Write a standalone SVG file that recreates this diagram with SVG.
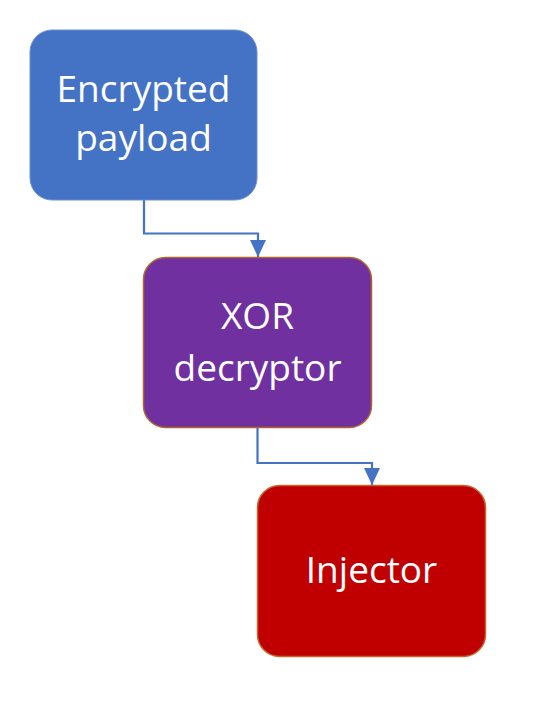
<svg xmlns="http://www.w3.org/2000/svg" width="536" height="706" viewBox="0 0 536 706">
<style>
.lbl{font-family:"Open Sans","Liberation Sans",sans-serif;font-size:37px;fill:#ffffff;text-anchor:middle}
.conn{fill:none;stroke:#4472c4;stroke-width:2.2}
</style>
<defs>
<marker id="ah" markerUnits="userSpaceOnUse" markerWidth="18" markerHeight="18" refX="17" refY="8" orient="auto">
<path d="M0,0 L17,8 L0,16 Z" fill="#4472c4"/>
</marker>
</defs>
<rect width="536" height="706" fill="#ffffff"/>
<g id="connectors">
<path class="conn" d="M144,200 V233.5 H258 V257" marker-end="url(#ah)"/>
<path class="conn" d="M257.5,428 V463 H372 V485" marker-end="url(#ah)"/>
</g>
<g id="encrypted-payload">
<rect x="30" y="30" width="227" height="170" rx="22" fill="#4472c4" stroke="#6f8fd0" stroke-width="1"/>
<text class="lbl" x="143.5" y="102">Encrypted</text>
<text class="lbl" x="143.5" y="151">payload</text>
</g>
<g id="xor-decryptor">
<rect x="143.5" y="257.5" width="228" height="170" rx="22" fill="#7030a0" stroke="#b0652e" stroke-width="1.5"/>
<text class="lbl" x="257.5" y="329">XOR</text>
<text class="lbl" x="257.5" y="380.5">decryptor</text>
</g>
<g id="injector">
<rect x="257.5" y="485.5" width="228" height="171" rx="22" fill="#c00000" stroke="#c5652e" stroke-width="1.5"/>
<text class="lbl" x="371.5" y="583">Injector</text>
</g>
</svg>
